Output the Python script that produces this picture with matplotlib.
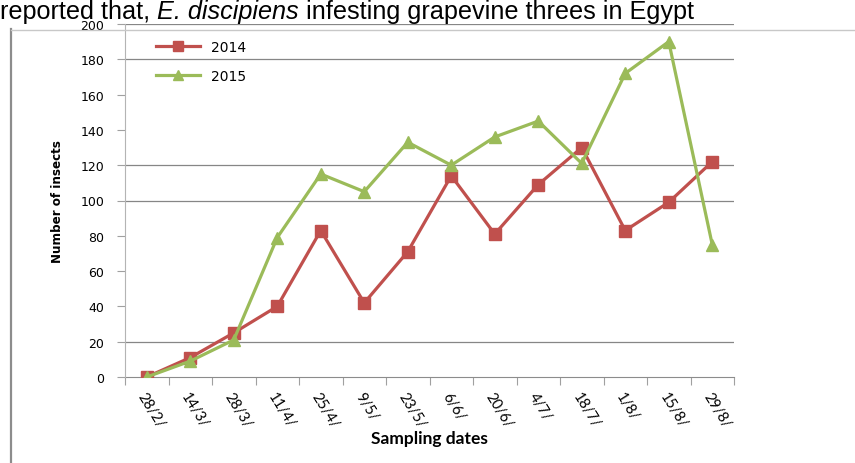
import numpy as np
import matplotlib.pyplot as plt
from matplotlib.lines import Line2D

dates = ['28/2/', '14/3/', '28/3/', '11/4/', '25/4/', '9/5/', '23/5/',
         '6/6/', '20/6/', '4/7/', '18/7/', '1/8/', '15/8/', '29/8/']
y2014 = [0, 11, 25, 40, 83, 42, 71, 114, 81, 109, 130, 83, 99, 122]
y2015 = [0, 9, 21, 79, 115, 105, 133, 120, 136, 145, 121, 172, 190, 75]
grid_vals = [20, 100, 120, 180, 200]  # only these show up in the scan

W, H = 855, 464
fig = plt.figure(figsize=(W / 100, H / 100), dpi=100)

# caption line at the very top of the page, chained so the italic part sits right
parts = [('reported that, ', 'normal'), ('E. discipiens', 'italic'),
         (' infesting grapevine threes in Egypt', 'normal')]
renderer = fig.canvas.get_renderer()
xpos = 0.0
for txt, st in parts:
    t = fig.text(xpos, 1 - 19 / H, txt, fontsize=18.2, family='Liberation Sans',
                 style=st, va='baseline', ha='left')
    bb = t.get_window_extent(renderer)
    xpos = bb.x1 / W

# page frame lines
fig.add_artist(Line2D([11 / W, 11 / W], [0, 1 - 30 / H], color='#8c8c8c', lw=1.6))
fig.add_artist(Line2D([11 / W, 1], [1 - 31 / H, 1 - 31 / H], color='#c8c8c8', lw=1.0))

ax = fig.add_axes([125 / W, 1 - 378 / H, 609 / W, 353 / H])
x = np.arange(len(dates))

for g in grid_vals:
    ax.axhline(g, color='#868686', lw=0.9, zorder=1)

ax.plot(x, y2014, color='#C0504D', lw=2.3, marker='s', ms=8.5,
        label='2014', zorder=3)
ax.plot(x, y2015, color='#9BBB59', lw=2.3, marker='^', ms=9,
        label='2015', zorder=3)

ax.set_xlim(-0.5, len(dates) - 0.5)
ax.set_ylim(0, 200)
ax.set_yticks(range(0, 201, 20))
ax.set_xticks(np.arange(-0.5, len(dates), 1))
ax.set_xticklabels([])
ax.set_xticks(x, minor=True)
ax.set_xticklabels(dates, minor=True, rotation=-58, ha='left', va='top',
                   rotation_mode='anchor', family='Lato', fontsize=10.5)
ax.tick_params(axis='x', which='minor', length=0, pad=9)
ax.tick_params(axis='x', which='major', length=6, color='#a0a0a0')
ax.tick_params(axis='y', length=6, color='#a0a0a0', labelsize=9, pad=9)
for lab in ax.get_yticklabels():
    lab.set_family('DejaVu Sans')

for s in ['top', 'right']:
    ax.spines[s].set_visible(False)
ax.spines['left'].set_color('#b4b4b4')
ax.spines['bottom'].set_color('#8c8c8c')
ax.spines['bottom'].set_zorder(2)

ax.set_ylabel('Number of insects', fontsize=9.5, family='DejaVu Sans',
              fontstretch='condensed', weight='bold', labelpad=12)
ax.set_xlabel('Sampling dates', fontsize=12.5, family='Lato', weight='bold',
              labelpad=0)

ax.legend(loc='upper left', bbox_to_anchor=(0.03, 0.99), frameon=False,
          handlelength=3.2, labelspacing=1.1, markerscale=0.85,
          prop={'family': 'DejaVu Sans', 'size': 10})

fig.savefig('out.png', dpi=100)
